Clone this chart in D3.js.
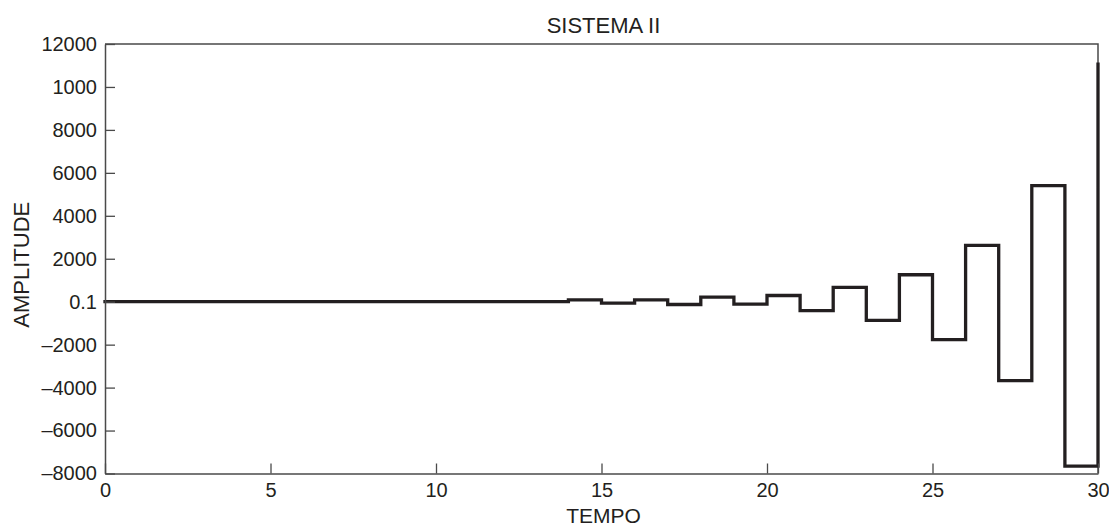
<!DOCTYPE html>
<html>
<head>
<meta charset="utf-8">
<script src="https://cdn.jsdelivr.net/npm/d3@7"></script>
<style>
  html, body { margin: 0; padding: 0; background: #fff; }
  svg { display: block; font-family: "Liberation Sans", Arial, Helvetica, sans-serif; }
</style>
</head>
<body>
<svg id="chart" width="1109" height="529"></svg>
<script>
// Discrete-time response of system II, drawn as a staircase
const samples = d3.range(0, 31);
const amplitude = [
  0, 0, 0, 0, 0, 0, 0, 0, 0, 0, 0, 0, 0, 0,
  84, -62, 84, -130, 209, -116, 288, -419, 665, -870,
  1256, -1767, 2619, -3674, 5409, -7660, 11056
];
const xTicks = [0, 5, 10, 15, 20, 25, 30];
const yTicks = [-8000, -6000, -4000, -2000, 0, 2000, 4000, 6000, 8000, 10000, 12000];
const yTickLabels = ["\u20138000", "\u20136000", "\u20134000", "\u20132000", "0.1",
                     "2000", "4000", "6000", "8000", "1000", "12000"];

const ink = "#231f20";
const frame = "#4a4a4a";
const m = { left: 105, right: 1098, top: 44, bottom: 473.5 };

const svg = d3.select("#chart");

const x = d3.scaleLinear().domain([0, 30]).range([m.left, m.right]);
const y = d3.scaleLinear().domain([-8000, 12000]).range([m.bottom, m.top]);

// box: top and right edges
svg.append("path")
  .attr("d", `M${m.left},${m.top}H${m.right}V${m.bottom}`)
  .attr("fill", "none")
  .attr("stroke", frame)
  .attr("stroke-width", 1.5);

// staircase
const line = d3.line()
  .x((d, i) => x(samples[i]))
  .y(d => y(d))
  .curve(d3.curveStepAfter);

svg.append("path")
  .datum(amplitude)
  .attr("d", line)
  .attr("fill", "none")
  .attr("stroke", ink)
  .attr("stroke-width", 3.3)
  .attr("stroke-linejoin", "miter")
  .attr("stroke-linecap", "square");

// axes
const yAxis = d3.axisLeft(y)
  .tickValues(yTicks)
  .tickFormat((d, i) => yTickLabels[i])
  .tickSizeInner(-10)
  .tickSizeOuter(0)
  .tickPadding(8);

const xAxis = d3.axisBottom(x)
  .tickValues(xTicks)
  .tickFormat(d3.format("d"))
  .tickSizeInner(-10)
  .tickSizeOuter(0)
  .tickPadding(9);

const gy = svg.append("g").attr("transform", `translate(${m.left},0)`).call(yAxis);
const gx = svg.append("g").attr("transform", `translate(0,${m.bottom})`).call(xAxis);

[gx, gy].forEach(g => {
  g.select(".domain").attr("stroke", frame).attr("stroke-width", 1.5);
  g.selectAll(".tick line").attr("stroke", frame).attr("stroke-width", 1.3);
  g.selectAll(".tick text")
    .attr("fill", ink)
    .style("font-size", "20px")
    .style("font-family", "'Liberation Sans', Arial, sans-serif");
});

// title and axis labels
svg.append("text")
  .attr("x", (m.left + m.right) / 2 + 2)
  .attr("y", 33)
  .attr("text-anchor", "middle")
  .attr("fill", ink)
  .style("font-size", "22px")
  .text("SISTEMA II");

svg.append("text")
  .attr("x", (m.left + m.right) / 2 + 2)
  .attr("y", 523)
  .attr("text-anchor", "middle")
  .attr("fill", ink)
  .style("font-size", "21px")
  .text("TEMPO");

svg.append("text")
  .attr("transform", `translate(29,${(m.top + m.bottom) / 2 + 6}) rotate(-90)`)
  .attr("text-anchor", "middle")
  .attr("fill", ink)
  .style("font-size", "22px")
  .text("AMPLITUDE");
</script>
</body>
</html>
